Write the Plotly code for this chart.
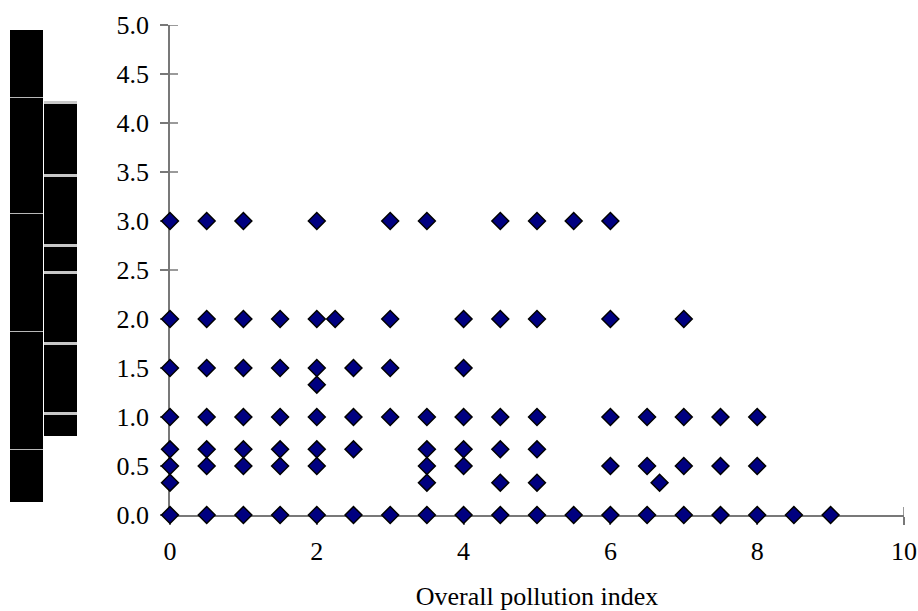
import plotly.graph_objects as go

# ---- data: points grouped by y value (score) -> list of pollution index values ----
row_y = [3.0, 2.0, 1.5, 1.33, 1.0, 0.67, 0.5, 0.33, 0.0]
row_x = [
    [0, 0.5, 1, 2, 3, 3.5, 4.5, 5, 5.5, 6],
    [0, 0.5, 1, 1.5, 2, 2.25, 3, 4, 4.5, 5, 6, 7],
    [0, 0.5, 1, 1.5, 2, 2.5, 3, 4],
    [2],
    [0, 0.5, 1, 1.5, 2, 2.5, 3, 3.5, 4, 4.5, 5, 6, 6.5, 7, 7.5, 8],
    [0, 0.5, 1, 1.5, 2, 2.5, 3.5, 4, 4.5, 5],
    [0, 0.5, 1, 1.5, 2, 3.5, 4, 6, 6.5, 7, 7.5, 8],
    [0, 3.5, 4.5, 5, 6.67],
    [0, 0.5, 1, 1.5, 2, 2.5, 3, 3.5, 4, 4.5, 5, 5.5, 6, 6.5, 7, 7.5, 8, 8.5, 9],
]
x_title = "Overall pollution index"

xs, ys = [], []
for yv, xl in zip(row_y, row_x):
    for xv in xl:
        xs.append(xv)
        ys.append(yv)

# ---- layout geometry ----
W, H = 918, 611
L, R, T, B = 170, 14, 25, 96
PW, PH = W - L - R, H - T - B

def px2paper_x(px):
    return (px - L) / PW

def px2paper_y(py):
    return (H - B - py) / PH

FONT = "Liberation Serif"
AXC = "#787878"

fig = go.Figure()
fig.add_trace(go.Scatter(
    x=xs, y=ys, mode="markers", cliponaxis=False, showlegend=False,
    marker=dict(symbol="diamond", size=13, color="#000080",
                line=dict(color="black", width=1.5)),
))

# decorative broken y-axis-title image (black bars at left)
shapes = []
bars = [(10, 43, 30, 502), (44, 77, 101, 436)]
for x0, x1, y0, y1 in bars:
    shapes.append(dict(type="rect", xref="paper", yref="paper", layer="above",
                       x0=px2paper_x(x0), x1=px2paper_x(x1),
                       y0=px2paper_y(y1), y1=px2paper_y(y0),
                       fillcolor="black", line=dict(width=0)))
lines_a = [97, 213, 331, 449]
for yy in lines_a:
    shapes.append(dict(type="rect", xref="paper", yref="paper", layer="above",
                       x0=px2paper_x(10), x1=px2paper_x(43),
                       y0=px2paper_y(yy + 1), y1=px2paper_y(yy),
                       fillcolor="#b8b8b8", line=dict(width=0)))
bands_b = [101, 174, 244, 271, 342, 412]
for yy in bands_b:
    shapes.append(dict(type="rect", xref="paper", yref="paper", layer="above",
                       x0=px2paper_x(44), x1=px2paper_x(77),
                       y0=px2paper_y(yy + 3), y1=px2paper_y(yy),
                       fillcolor="#c8c8c8", line=dict(width=0)))

# inner half of the crossing tick marks, drawn below the markers
x_ticks = [0, 2, 4, 6, 8, 10]
y_ticks = [0.0, 0.5, 1.0, 1.5, 2.0, 2.5, 3.0, 3.5, 4.0, 4.5, 5.0]
for xv in x_ticks:
    shapes.append(dict(type="line", xref="x", yref="paper", layer="below",
                       x0=xv, x1=xv, y0=0, y1=8 / PH,
                       line=dict(color=AXC, width=1.5)))
for yv in y_ticks:
    shapes.append(dict(type="line", xref="paper", yref="y", layer="below",
                       x0=0, x1=8 / PW, y0=yv, y1=yv,
                       line=dict(color=AXC, width=1.5)))

fig.update_layout(
    width=W, height=H,
    margin=dict(l=L, r=R, t=T, b=B, pad=0),
    paper_bgcolor="white", plot_bgcolor="white",
    font=dict(family=FONT, size=26, color="black"),
    shapes=shapes,
    xaxis=dict(range=[0, 10], tickvals=x_ticks, ticktext=[str(v) for v in x_ticks],
               showgrid=False, zeroline=False, automargin=False,
               layer="below traces",
               showline=True, linecolor=AXC, linewidth=1.5,
               ticks="outside", ticklen=8, tickwidth=1.5, tickcolor=AXC,
               ticklabelstandoff=4,
               tickfont=dict(family=FONT, size=26, color="black"),
               title=dict(text=x_title, standoff=22,
                          font=dict(family=FONT, size=26, color="black"))),
    yaxis=dict(range=[0, 5], tickvals=y_ticks, ticktext=[f"{v:.1f}" for v in y_ticks],
               showgrid=False, zeroline=False, automargin=False,
               layer="below traces",
               showline=True, linecolor=AXC, linewidth=1.5,
               ticks="outside", ticklen=8, tickwidth=1.5, tickcolor=AXC,
               ticklabelstandoff=6,
               tickfont=dict(family=FONT, size=26, color="black")),
)

fig.write_html("out.html")
